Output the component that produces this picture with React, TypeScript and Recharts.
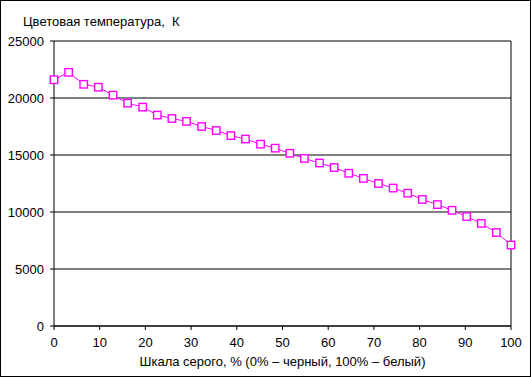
import React from "react";
import {
  LineChart,
  Line,
  XAxis,
  YAxis,
  CartesianGrid,
  ReferenceLine,
} from "recharts";

// gray scale position, % (0% - black, 100% - white)
const grayLevels = [
  0, 3.2, 6.5, 9.7, 12.9, 16.1, 19.4, 22.6, 25.8, 29.0, 32.3, 35.5, 38.7, 41.9,
  45.2, 48.4, 51.6, 54.8, 58.1, 61.3, 64.5, 67.7, 71.0, 74.2, 77.4, 80.6, 83.9,
  87.1, 90.3, 93.5, 96.8, 100,
];

// colour temperature, K
const colorTemps = [
  21600, 22250, 21200, 20950, 20250, 19550, 19200, 18500, 18200, 17950, 17500,
  17150, 16700, 16400, 15950, 15600, 15150, 14700, 14300, 13900, 13400, 12950,
  12500, 12100, 11650, 11100, 10650, 10150, 9600, 9000, 8200, 7100,
];

const xTicks = [0, 10, 20, 30, 40, 50, 60, 70, 80, 90, 100];
const yTicks = [0, 5000, 10000, 15000, 20000, 25000];

const chartData = grayLevels.map((x, i) => ({ x, y: colorTemps[i] }));

const font = "'Liberation Sans', Arial, sans-serif";
const tickStyle = { fontSize: 13, fill: "#000", fontFamily: font };

const SquareDot = (props) => {
  const { cx, cy, index } = props;
  if (cx == null || cy == null) return null;
  return (
    <rect
      key={"dot-" + index}
      x={cx - 3.7}
      y={cy - 3.7}
      width={7.4}
      height={7.4}
      fill="#fff"
      stroke="#ff00ff"
      strokeWidth={1.4}
    />
  );
};

export default function App() {
  return (
    <div
      style={{
        position: "absolute",
        left: 0,
        top: 0,
        width: 531,
        height: 377,
        border: "1px solid #000",
        boxSizing: "border-box",
        background: "#fff",
        fontFamily: font,
      }}
    >
      <div
        style={{
          position: "absolute",
          left: 22,
          top: 13,
          fontSize: 13,
          color: "#000",
          whiteSpace: "pre",
        }}
      >
        {"Цветовая температура,  К"}
      </div>
      <div style={{ position: "absolute", left: -1, top: -1 }}>
        <LineChart
          width={531}
          height={377}
          data={chartData}
          margin={{ top: 41, right: 20, bottom: 0, left: 0 }}
        >
          <CartesianGrid vertical={false} stroke="#000" />
          <XAxis
            dataKey="x"
            type="number"
            domain={[0, 100]}
            ticks={xTicks}
            height={51}
            tickSize={4}
            tickMargin={8}
            tick={tickStyle}
            axisLine={{ stroke: "#000" }}
            tickLine={{ stroke: "#000" }}
            label={{
              value: "Шкала серого, % (0% – черный,  100% – белый)",
              position: "insideBottom",
              offset: 11,
              style: { fontSize: 13, fill: "#000", fontFamily: font, whiteSpace: "pre" },
            }}
          />
          <YAxis
            type="number"
            domain={[0, 25000]}
            ticks={yTicks}
            width={54}
            tickSize={4}
            tickMargin={6}
            tick={tickStyle}
            axisLine={{ stroke: "#000" }}
            tickLine={{ stroke: "#000" }}
          />
          <ReferenceLine x={100} stroke="#000" />
          <Line
            dataKey="y"
            stroke="#ff00ff"
            strokeWidth={1}
            dot={<SquareDot />}
            activeDot={false}
            isAnimationActive={false}
          />
        </LineChart>
      </div>
    </div>
  );
}
